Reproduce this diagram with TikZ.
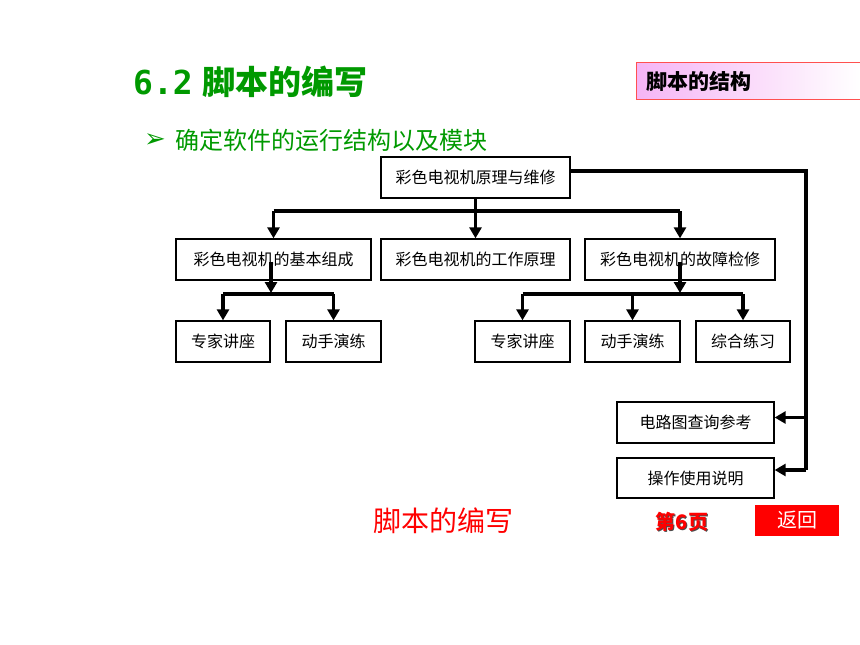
\documentclass[tikz,border=0pt]{standalone}
\usepackage{fontspec}
\setmainfont{Noto Sans CJK SC}
\newfontfamily\symfont{DejaVu Sans}
\newfontfamily\digfont{DejaVu Sans Mono}
\usetikzlibrary{arrows.meta}
\definecolor{tgreen}{RGB}{0,153,0}
\definecolor{tred}{RGB}{255,0,0}
\definecolor{tpink}{RGB}{245,180,245}
\definecolor{tborder}{RGB}{255,80,80}
\begin{document}
\begin{tikzpicture}[x=1pt,y=-1pt,
  box/.style={draw=black, line width=1.3pt, inner sep=0pt, minimum height=41pt, font=\fontsize{16}{16}\selectfont},
  conn/.style={line width=3.2pt, line join=miter},
  arr/.style={line width=3.2pt, -{Triangle[width=12pt,length=11pt]}}]
\useasboundingbox (0,0) rectangle (860,645);
% title
\node[anchor=west, text=tgreen, font=\fontsize{33}{33}\selectfont\bfseries, inner sep=0pt] (title) at (133,82) {{\digfont 6.2}\hspace{10pt}脚本的编写};
\node[anchor=west, text=tgreen, font=\fontsize{26}{26}\selectfont\symfont, inner sep=0pt] (bul) at (144,141) {➢};
\node[anchor=west, text=tgreen, font=\fontsize{24}{24}\selectfont, inner sep=0pt] (sub) at (175,140) {确定软件的运行结构以及模块};
% top-right label
\shade[left color=tpink, right color=white] (636,62) rectangle (860,99);
\draw[tborder, line width=1pt] (636,62) rectangle (860,99);
\node[anchor=west, font=\fontsize{21}{21}\selectfont\bfseries, inner sep=0pt] (lab) at (646,81) {脚本的结构};
% boxes
\node[box, minimum width=189pt] (top) at (475.5,177.5) {彩色电视机原理与维修};
\node[box, minimum width=195pt] (a) at (273.5,259.5) {彩色电视机的基本组成};
\node[box, minimum width=189pt] (b) at (475.5,259.5) {彩色电视机的工作原理};
\node[box, minimum width=190pt] (c) at (680,259.5) {彩色电视机的故障检修};
\node[box, minimum width=94pt] (a1) at (223,341.5) {专家讲座};
\node[box, minimum width=95pt] (a2) at (333.5,341.5) {动手演练};
\node[box, minimum width=95pt] (c1) at (522.5,341.5) {专家讲座};
\node[box, minimum width=95pt] (c2) at (632.5,341.5) {动手演练};
\node[box, minimum width=94pt] (c3) at (743,341.5) {综合练习};
\node[box, minimum width=157pt] (r1) at (695.5,422.5) {电路图查询参考};
\node[box, minimum width=157pt, minimum height=40pt] (r2) at (695.5,478) {操作使用说明};
% level 1 connectors
\coordinate (bus1) at (475.5,211);
\draw[conn] (top.south) -- (bus1);
\draw[conn] (a.north |- bus1) -- (c.north |- bus1);
\draw[arr] (a.north |- bus1) -- (a.north);
\draw[arr] (bus1) -- (b.north);
\draw[arr] (c.north |- bus1) -- (c.north);
% level 2 left
\coordinate (bus2) at (271,294);
\draw[arr] ([yshift=-2pt]a.center -| bus2) -- ([yshift=1pt]bus2);
\draw[conn] (a1.north |- bus2) -- (a2.north |- bus2);
\draw[arr] (a1.north |- bus2) -- (a1.north);
\draw[arr] (a2.north |- bus2) -- (a2.north);
% level 2 right
\coordinate (bus3) at (680,294);
\draw[arr] ([yshift=-2pt]c.center) -- ([yshift=1pt]bus3);
\draw[conn] (c1.north |- bus3) -- (c3.north |- bus3);
\draw[arr] (c1.north |- bus3) -- (c1.north);
\draw[arr] (c2.north |- bus3) -- (c2.north);
\draw[arr] (c3.north |- bus3) -- (c3.north);
% right side
\coordinate (ts) at ([yshift=6.5pt]top.east);
\coordinate (rc) at (806,171);
\coordinate (rb) at (806,470);
\coordinate (r1in) at ([yshift=5pt]r1.east);
\coordinate (r2in) at ([yshift=8pt]r2.east);
\draw[conn] (ts) -- (rc) -- (rb) -- (r2in -| rc);
\draw[arr] (rc |- r1in) -- (r1in);
\draw[arr] (rc |- r2in) -- (r2in);
% bottom
\node[text=tred, font=\fontsize{28}{28}\selectfont, inner sep=0pt] (foot) at (443,521) {脚本的编写};
\node[text=black!70, font=\fontsize{20}{20}\selectfont\bfseries, inner sep=0pt] (pgs) at (683,523) {第6页};
\node[text=tred, font=\fontsize{20}{20}\selectfont\bfseries, inner sep=0pt] (pg) at (682,522) {第6页};
\fill[tred] (755,505) rectangle (839,536);
\node[text=white, font=\fontsize{20}{20}\selectfont, inner sep=0pt] (back) at (797,520.5) {返回};
\end{tikzpicture}
\end{document}
